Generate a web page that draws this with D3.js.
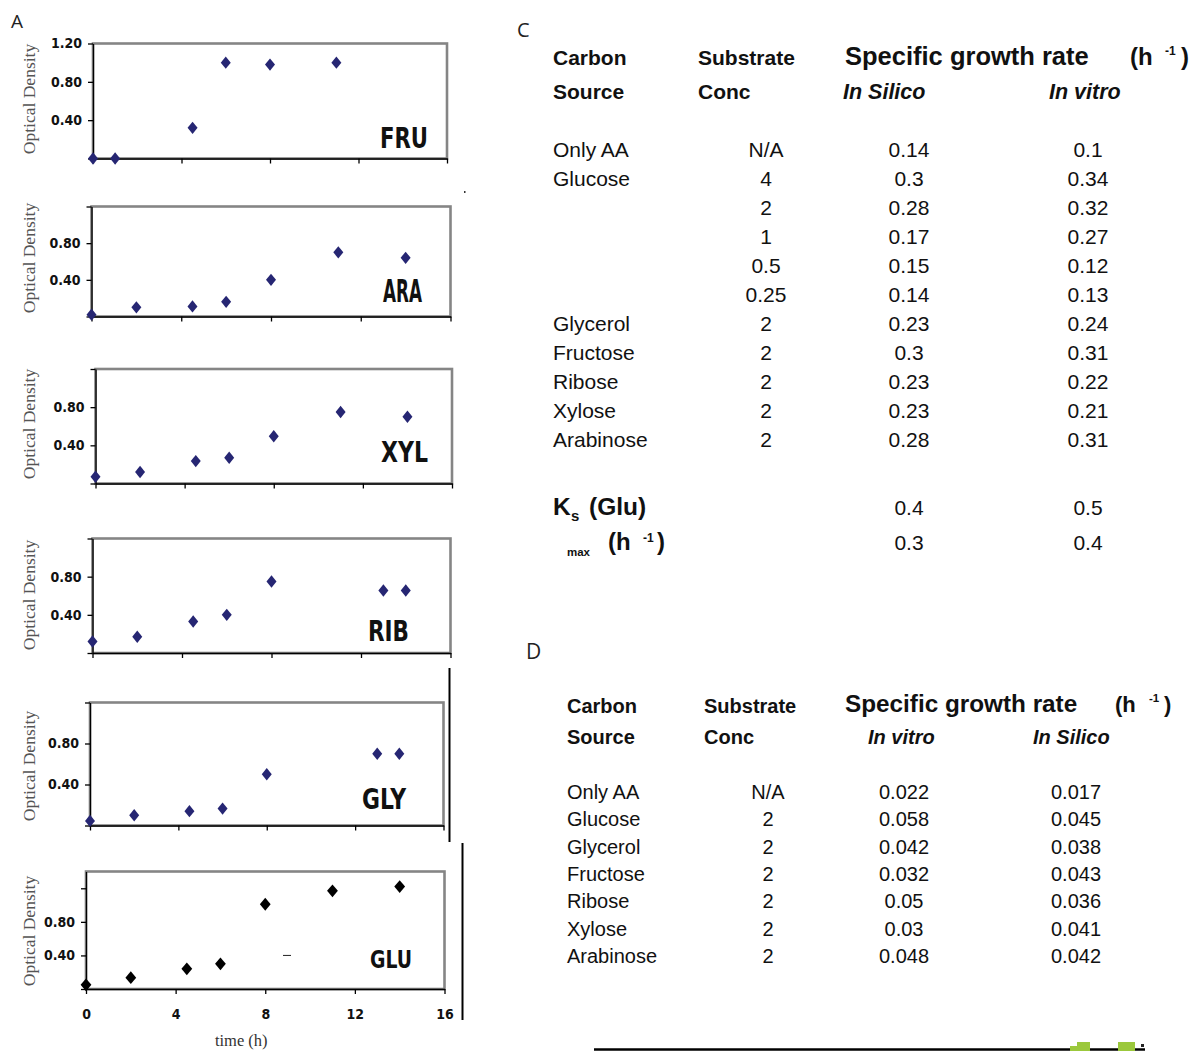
<!DOCTYPE html>
<html><head><meta charset="utf-8">
<script src="https://cdn.jsdelivr.net/npm/d3@7"></script>
<style>body{margin:0;background:#fff} svg{display:block}</style>
</head><body>
<svg id="c" width="1198" height="1051"></svg>
<script>
// ---------- DATA ----------
const panelNames = ["FRU", "ARA", "XYL", "RIB", "GLY", "GLU"];
const fruTime = [0, 1, 4.5, 6, 8, 11];
const fruOD   = [0, 0, 0.32, 1.0, 0.98, 1.0];
const araTime = [0, 2, 4.5, 6, 8, 11, 14];
const araOD   = [0.02, 0.10, 0.11, 0.16, 0.40, 0.70, 0.64];
const xylTime = [0, 2, 4.5, 6, 8, 11, 14];
const xylOD   = [0.07, 0.12, 0.235, 0.27, 0.495, 0.75, 0.70];
const ribTime = [0, 2, 4.5, 6, 8, 13, 14];
const ribOD   = [0.12, 0.17, 0.33, 0.40, 0.75, 0.655, 0.655];
const glyTime = [0, 2, 4.5, 6, 8, 13, 14];
const glyOD   = [0.045, 0.10, 0.14, 0.165, 0.50, 0.70, 0.70];
const gluTime = [0, 2, 4.5, 6, 8, 11, 14];
const gluOD   = [0.05, 0.135, 0.24, 0.30, 1.01, 1.17, 1.22];
const xTickValues = [0, 4, 8, 12, 16];
const yTickValues = [0, 0.4, 0.8, 1.2];
const yLabelsFirst = [0.4, 0.8, 1.2];
const yLabelsOther = [0.4, 0.8];
const yMaxes = [1.2, 1.2, 1.2, 1.2, 1.2, 1.4];

// Table C
const tcHeader1 = ["Carbon", "Substrate", "Specific growth rate"];
const tcHeader2 = ["Source", "Conc", "In Silico", "In vitro"];
const tcSource = ["Only AA", "Glucose", "", "", "", "", "Glycerol", "Fructose", "Ribose", "Xylose", "Arabinose"];
const tcConc   = ["N/A", "4", "2", "1", "0.5", "0.25", "2", "2", "2", "2", "2"];
const tcSilico = ["0.14", "0.3", "0.28", "0.17", "0.15", "0.14", "0.23", "0.3", "0.23", "0.23", "0.28"];
const tcVitro  = ["0.1", "0.34", "0.32", "0.27", "0.12", "0.13", "0.24", "0.31", "0.22", "0.21", "0.31"];
const ksGlu    = ["0.4", "0.5"];
const muMax    = ["0.3", "0.4"];

// Table D
const tdHeader1 = ["Carbon", "Substrate", "Specific growth rate"];
const tdHeader2 = ["Source", "Conc", "In vitro", "In Silico"];
const tdSource = ["Only AA", "Glucose", "Glycerol", "Fructose", "Ribose", "Xylose", "Arabinose"];
const tdConc   = ["N/A", "2", "2", "2", "2", "2", "2"];
const tdVitro  = ["0.022", "0.058", "0.042", "0.032", "0.05", "0.03", "0.048"];
const tdSilico = ["0.017", "0.045", "0.038", "0.043", "0.036", "0.041", "0.042"];

// ---------- LAYOUT ----------
const panelData = [
  [fruTime, fruOD], [araTime, araOD], [xylTime, xylOD],
  [ribTime, ribOD], [glyTime, glyOD], [gluTime, gluOD]
];
const layout = [
  {L: 93,   R: 447,   T: 43.5,  B: 158.5, lx: 380, ly: 148,   lw: 48, fs: 28, titleY: 99},
  {L: 91.5, R: 450.5, T: 206.5, B: 316.5, lx: 383, ly: 301.5, lw: 39, fs: 32, titleY: 258},
  {L: 95.5, R: 452,   T: 369,   B: 483.5, lx: 381, ly: 461.5, lw: 47, fs: 29, titleY: 424},
  {L: 92.5, R: 450.5, T: 538.5, B: 653,   lx: 368, ly: 641,   lw: 41, fs: 29, titleY: 595},
  {L: 90,   R: 443.5, T: 702.5, B: 825.5, lx: 362, ly: 809,   lw: 44, fs: 29, titleY: 766},
  {L: 86,   R: 444.5, T: 871.5, B: 989,   lx: 370, ly: 968,   lw: 42, fs: 25, titleY: 931}
];

const svg = d3.select("#c");
const NARROW = "'Liberation Sans Narrow','Arial Narrow','DejaVu Sans Condensed',sans-serif";
const SANS = "'Liberation Sans',Arial,sans-serif";
const SERIF = "'Liberation Serif','Times New Roman',serif";
const LETTER = "'Open Sans','Noto Sans',sans-serif";

function diamondType(a, b) {
  return { draw(ctx) { ctx.moveTo(0, -b); ctx.lineTo(a, 0); ctx.lineTo(0, b); ctx.lineTo(-a, 0); ctx.closePath(); } };
}

panelData.forEach(([times, ods], i) => {
  const lay = layout[i];
  const g = svg.append("g");
  const x = d3.scaleLinear().domain([0, 16]).range([lay.L, lay.R]);
  const y = d3.scaleLinear().domain([0, yMaxes[i]]).range([lay.B, lay.T]);

  // plot frame (gray)
  g.append("rect").attr("x", lay.L).attr("y", lay.T)
    .attr("width", lay.R - lay.L).attr("height", lay.B - lay.T)
    .attr("fill", "none").attr("stroke", "#858585").attr("stroke-width", 2.6);

  const labelled = i === 0 ? yLabelsFirst : yLabelsOther;
  const yAxis = d3.axisLeft(y).tickValues(yTickValues).tickSize(5).tickSizeOuter(0).tickPadding(6)
    .tickFormat(d => labelled.some(v => Math.abs(v - d) < 1e-9) ? d3.format(".2f")(d) : "");
  const ya = g.append("g").attr("transform", `translate(${lay.L},0)`).call(yAxis);

  const xAxis = d3.axisBottom(x).tickValues(xTickValues).tickSize(5).tickSizeOuter(0).tickPadding(15)
    .tickFormat(d => i === 5 ? String(d) : "");
  const xa = g.append("g").attr("transform", `translate(0,${lay.B})`).call(xAxis);

  [ya, xa].forEach(a => {
    a.select(".domain").attr("stroke", "#000").attr("stroke-width", 1.3);
    a.selectAll(".tick line").attr("stroke", "#000").attr("stroke-width", 1.3);
    a.selectAll(".tick text").attr("fill", "#111").attr("font-family", NARROW)
      .attr("font-weight", "bold").attr("font-size", 14);
  });

  // y-axis title
  g.append("text").attr("transform", `translate(35,${lay.titleY}) rotate(-90)`)
    .attr("text-anchor", "middle").attr("font-family", SERIF).attr("font-size", 17.5)
    .attr("fill", "#555").text("Optical Density");

  // markers
  const sym = i === 5 ? d3.symbol().type(diamondType(5.4, 6.4)) : d3.symbol().type(diamondType(5, 6.2));
  g.selectAll("path.pt").data(times.map((t, k) => [t, ods[k]])).enter()
    .append("path").attr("class", "pt")
    .attr("transform", d => `translate(${x(d[0])},${y(d[1])})`)
    .attr("d", sym()).attr("fill", i === 5 ? "#000" : "#262673");

  // panel label
  g.append("text").attr("x", lay.lx).attr("y", lay.ly)
    .attr("font-family", NARROW).attr("font-weight", "bold").attr("font-size", lay.fs)
    .attr("textLength", lay.lw).attr("lengthAdjust", "spacingAndGlyphs")
    .attr("fill", "#111").text(panelNames[i]);

  if (i === 5) {
    g.append("text").attr("x", (lay.L + lay.R) / 2 - 24).attr("y", 1046)
      .attr("text-anchor", "middle").attr("font-family", SERIF).attr("font-size", 16.5)
      .attr("fill", "#333").text("time (h)");
    // small stray dash inside GLU panel
    g.append("line").attr("x1", 283).attr("x2", 291).attr("y1", y(0.4)).attr("y2", y(0.4))
      .attr("stroke", "#222").attr("stroke-width", 1);
  }
});

// stray vertical lines / dots from the source figure
svg.append("line").attr("x1", 449.5).attr("x2", 449.5).attr("y1", 668).attr("y2", 842).attr("stroke", "#000").attr("stroke-width", 2);
svg.append("line").attr("x1", 462.5).attr("x2", 462.5).attr("y1", 843).attr("y2", 1020).attr("stroke", "#000").attr("stroke-width", 2);
svg.append("rect").attr("x", 464).attr("y", 191).attr("width", 1.5).attr("height", 2).attr("fill", "#333");

// panel letters
svg.append("text").attr("x", 11).attr("y", 28).attr("font-family", LETTER).attr("font-size", 19).attr("fill", "#222").text("A");
svg.append("text").attr("x", 517).attr("y", 37).attr("font-family", LETTER).attr("font-size", 20).attr("fill", "#222").text("C");
svg.append("text").attr("x", 526).attr("y", 659).attr("font-family", LETTER).attr("font-size", 21).attr("fill", "#222").text("D");

// ---------- TABLE C ----------
function txt(x, y, s, opts = {}) {
  return svg.append("text").attr("x", x).attr("y", y)
    .attr("font-family", opts.family || SANS)
    .attr("font-size", opts.size || 21)
    .attr("font-weight", opts.weight || "normal")
    .attr("font-style", opts.style || "normal")
    .attr("text-anchor", opts.anchor || "start")
    .attr("fill", "#111").text(s);
}

txt(553, 65, tcHeader1[0], {weight: "bold", size: 21});
txt(698, 65, tcHeader1[1], {weight: "bold", size: 21});
txt(845, 65, tcHeader1[2], {weight: "bold", size: 25.5});
txt(1130, 65, "(h", {weight: "bold", size: 24});
txt(1165, 55, "-1", {weight: "bold", size: 12});
txt(1181, 65, ")", {weight: "bold", size: 24});
txt(553, 99, tcHeader2[0], {weight: "bold", size: 21});
txt(698, 99, tcHeader2[1], {weight: "bold", size: 21});
txt(843, 99, tcHeader2[2], {weight: "bold", style: "italic", size: 21.5});
txt(1049, 99, tcHeader2[3], {weight: "bold", style: "italic", size: 21.5});

const rowC = d3.scalePoint().domain(d3.range(tcSource.length)).range([157, 447]);
const colC = {src: 553, conc: 766, sil: 909, vit: 1088};
tcSource.forEach((s, k) => {
  const yy = rowC(k);
  if (s) txt(colC.src, yy, s);
  txt(colC.conc, yy, tcConc[k], {anchor: "middle"});
  txt(colC.sil, yy, tcSilico[k], {anchor: "middle"});
  txt(colC.vit, yy, tcVitro[k], {anchor: "middle"});
});

// Ks and mu max rows
txt(553, 515, "K", {weight: "bold", size: 24.5});
txt(571, 521, "s", {weight: "bold", size: 15});
txt(589, 515, "(Glu)", {weight: "bold", size: 24.5});
txt(colC.sil, 515, ksGlu[0], {anchor: "middle"});
txt(colC.vit, 515, ksGlu[1], {anchor: "middle"});
txt(567, 556, "max", {weight: "bold", size: 11.5});
txt(608, 550, "(h", {weight: "bold", size: 24});
txt(643, 542, "-1", {weight: "bold", size: 12});
txt(657, 550, ")", {weight: "bold", size: 24});
txt(colC.sil, 550, muMax[0], {anchor: "middle"});
txt(colC.vit, 550, muMax[1], {anchor: "middle"});

// ---------- TABLE D ----------
txt(567, 713, tdHeader1[0], {weight: "bold", size: 20});
txt(704, 713, tdHeader1[1], {weight: "bold", size: 20});
txt(845, 712, tdHeader1[2], {weight: "bold", size: 24.3});
txt(1115, 712, "(h", {weight: "bold", size: 22});
txt(1149, 702, "-1", {weight: "bold", size: 11.5});
txt(1164, 712, ")", {weight: "bold", size: 22});
txt(567, 744, tdHeader2[0], {weight: "bold", size: 20});
txt(704, 744, tdHeader2[1], {weight: "bold", size: 20});
txt(868, 744, tdHeader2[2], {weight: "bold", style: "italic", size: 20});
txt(1033, 744, tdHeader2[3], {weight: "bold", style: "italic", size: 20});

const rowD = d3.scalePoint().domain(d3.range(tdSource.length)).range([799, 963]);
const colD = {src: 567, conc: 768, vit: 904, sil: 1076};
tdSource.forEach((s, k) => {
  const yy = rowD(k);
  txt(colD.src, yy, s, {size: 20});
  txt(colD.conc, yy, tdConc[k], {anchor: "middle", size: 20});
  txt(colD.vit, yy, tdVitro[k], {anchor: "middle", size: 20});
  txt(colD.sil, yy, tdSilico[k], {anchor: "middle", size: 20});
});

// bottom-right decoration
svg.append("line").attr("x1", 594).attr("x2", 1145).attr("y1", 1049.5).attr("y2", 1049.5).attr("stroke", "#000").attr("stroke-width", 2.5);
svg.append("rect").attr("x", 1077).attr("y", 1042).attr("width", 13).attr("height", 9).attr("fill", "#9bc83c");
svg.append("rect").attr("x", 1070).attr("y", 1046).attr("width", 8).attr("height", 5).attr("fill", "#9bc83c");
svg.append("rect").attr("x", 1118).attr("y", 1042).attr("width", 17).attr("height", 9).attr("fill", "#9bc83c");
svg.append("rect").attr("x", 1141).attr("y", 1044).attr("width", 3).attr("height", 3).attr("fill", "#222");
</script>
</body></html>
